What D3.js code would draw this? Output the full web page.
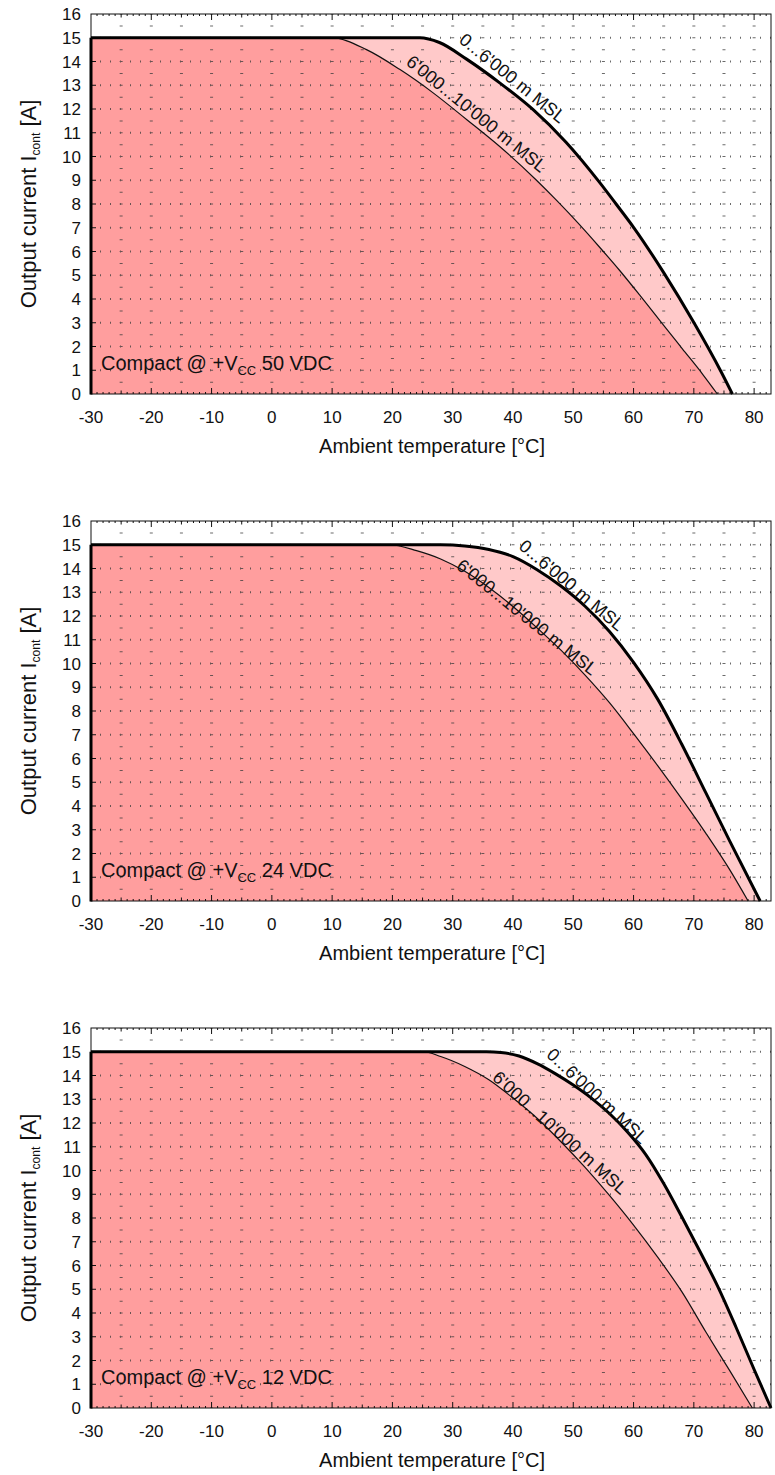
<!DOCTYPE html>
<html>
<head>
<meta charset="utf-8">
<script src="https://cdn.jsdelivr.net/npm/d3@7"></script>
<style>
  body { margin: 0; background: #fff; }
  text { font-family: 'Liberation Sans', Arial, Helvetica, sans-serif; fill: #111; }
</style>
</head>
<body>
<script>
// supply voltages, one chart each
const vccLabels = ['50 VDC', '24 VDC', '12 VDC'];
const tempTicks = d3.range(-30, 81, 10);
const currentTicks = d3.range(0, 17, 1);

// 0...6'000 m MSL (thick curve)
const low50T = [-30, 24.5, 27.8, 32.3, 37.8, 43.3, 48.8, 54.3, 57.1, 60, 65, 70, 74.5, 76.4];
const low50I = [15, 15, 14.8, 14.1, 13.1, 11.98, 10.6, 8.93, 8.0, 7.02, 5.11, 3.01, 0.95, 0];
const low24T = [-30, 28, 32, 36, 40, 44, 48, 52, 56, 60, 64, 68, 72, 76, 81];
const low24I = [15, 15, 14.95, 14.8, 14.5, 13.95, 13.25, 12.4, 11.35, 10.05, 8.5, 6.6, 4.55, 2.5, 0];
const low12T = [-30, 35.6, 38, 41, 44, 47, 50, 53, 56, 59, 62, 65, 68, 71, 74, 77, 80, 82.8];
const low12I = [15, 15, 14.97, 14.82, 14.5, 14.08, 13.6, 13.05, 12.4, 11.62, 10.68, 9.45, 8.05, 6.6, 5.1, 3.4, 1.62, 0];

// 6'000...10'000 m MSL (thin curve)
const high50T = [-30, 9.9, 15.7, 21.2, 26.7, 32.3, 37.8, 43.9, 47.2, 51, 54.3, 57.7, 61, 64.8, 68.1, 71.5, 73.9];
const high50I = [15, 15, 14.5, 13.67, 12.69, 11.56, 10.42, 9.0, 8.16, 7.14, 6.2, 5.2, 4.17, 2.95, 1.9, 0.82, 0];
const high24T = [-30, 19.5, 24, 28, 32, 36, 40, 44, 48, 52, 56, 60, 64, 68, 72, 76, 79];
const high24I = [15, 15, 14.75, 14.4, 13.88, 13.2, 12.4, 11.5, 10.55, 9.5, 8.35, 7.05, 5.7, 4.3, 2.85, 1.3, 0];
const high12T = [-30, 25.1, 28, 32, 36, 40, 44, 48, 52, 56, 60, 64, 68, 72, 76, 79.7];
const high12I = [15, 15, 14.8, 14.38, 13.82, 13.05, 12.2, 11.2, 10.12, 8.95, 7.7, 6.35, 4.9, 3.2, 1.55, 0];

// curve label anchors [T, I, angle]
const lowLabelAt = [[39.3, 13.1, 39], [49.1, 13.1, 40], [53.3, 12.95, 43]];
const highLabelAt = [[33.3, 11.6, 39], [41.7, 11.75, 38.6], [47.1, 11.4, 42]];

const lowCurves = [[low50T, low50I], [low24T, low24I], [low12T, low12I]];
const highCurves = [[high50T, high50I], [high24T, high24I], [high12T, high12I]];

const W = 775, H = 1475;
const left = 91, right = 771, plotH = 380, step = 507, top0 = 14;

const svg = d3.select('body').append('svg').attr('width', W).attr('height', H);
const x = d3.scaleLinear().domain([-30, 82.8]).range([left, right]);

const zip = (ts, is) => ts.map((t, i) => ({ t: t, v: is[i] }));

vccLabels.forEach(function (vcc, k) {
  const top = top0 + k * step;
  const bottom = top + plotH;
  const y = d3.scaleLinear().domain([0, 16]).range([bottom, top]);
  const g = svg.append('g').classed('chart', true);

  const low = zip(lowCurves[k][0], lowCurves[k][1]);
  const high = zip(highCurves[k][0], highCurves[k][1]);

  const area = d3.area().curve(d3.curveMonotoneX)
    .x(d => x(d.t)).y0(y(0)).y1(d => y(d.v));
  const line = d3.line().curve(d3.curveMonotoneX)
    .x(d => x(d.t)).y(d => y(d.v));

  g.append('path').attr('d', area(low)).attr('fill', '#ffc9c9');
  g.append('path').attr('d', area(high)).attr('fill', '#ff9e9e');

  // dotted grid
  const grid = g.append('g').attr('stroke', '#3a3a3a').attr('opacity', 0.75);
  grid.selectAll('.gv').data(d3.range(-25, 81, 5)).enter().append('line')
    .attr('x1', d => x(d)).attr('x2', d => x(d))
    .attr('y1', y(0)).attr('y2', y(16))
    .attr('stroke-width', 3)
    .attr('stroke-dasharray', '1,' + (y(0) - y(0.5) - 1))
    .attr('stroke-dashoffset', -(y(0) - y(0.5)) + 0.5);
  grid.selectAll('.gh').data(d3.range(1, 16)).enter().append('line')
    .attr('x1', x(-30)).attr('x2', x(82.8))
    .attr('y1', d => y(d)).attr('y2', d => y(d))
    .attr('stroke-width', 2)
    .attr('stroke-dasharray', '1,9')
    .attr('stroke-dashoffset', -9);

  // frame
  g.append('rect').attr('x', x(-30)).attr('y', y(16))
    .attr('width', x(82.8) - x(-30)).attr('height', y(0) - y(16))
    .attr('fill', 'none').attr('stroke', '#111').attr('stroke-width', 1);

  // axis ticks
  const ticks = g.append('g').attr('stroke', '#111').attr('stroke-width', 1);
  const minorT = d3.range(-29, 83, 1);
  const tickLen = d => (d % 10 === 0 ? 6 : d % 5 === 0 ? 3.5 : 2);
  ticks.selectAll('.tb').data(minorT).enter().append('line')
    .attr('x1', d => x(d)).attr('x2', d => x(d))
    .attr('y1', y(0)).attr('y2', d => y(0) - tickLen(d));
  ticks.selectAll('.tt').data(minorT).enter().append('line')
    .attr('x1', d => x(d)).attr('x2', d => x(d))
    .attr('y1', y(16)).attr('y2', d => y(16) + tickLen(d));
  ticks.selectAll('.tl').data(currentTicks.slice(1, 16)).enter().append('line')
    .attr('x1', x(-30)).attr('x2', x(-30) + 5)
    .attr('y1', d => y(d)).attr('y2', d => y(d));

  // curves
  g.append('path').attr('d', line(high)).attr('fill', 'none')
    .attr('stroke', '#111').attr('stroke-width', 1.2);
  g.append('path').attr('d', line(low)).attr('fill', 'none')
    .attr('stroke', '#000').attr('stroke-width', 3);
  g.append('line').attr('x1', x(-30)).attr('x2', x(-30))
    .attr('y1', y(0) + 0.5).attr('y2', y(15))
    .attr('stroke', '#000').attr('stroke-width', 3);

  // tick labels
  g.selectAll('.yl').data(currentTicks).enter().append('text')
    .attr('x', 81).attr('y', d => y(d)).attr('dy', '0.36em')
    .attr('text-anchor', 'end').attr('font-size', 17).text(d => d);
  g.selectAll('.xl').data(tempTicks).enter().append('text')
    .attr('x', d => x(d)).attr('y', bottom + 29)
    .attr('text-anchor', 'middle').attr('font-size', 17).text(d => d);

  // axis titles
  g.append('text').attr('x', 432).attr('y', bottom + 59)
    .attr('text-anchor', 'middle').attr('font-size', 20)
    .text('Ambient temperature [°C]');
  const yt = g.append('text')
    .attr('transform', 'translate(36,' + ((top + bottom) / 2) + ') rotate(-90)')
    .attr('text-anchor', 'middle').attr('font-size', 22);
  yt.append('tspan').text('Output current I');
  yt.append('tspan').attr('font-size', 12).attr('dy', 4).text('cont');
  yt.append('tspan').attr('dy', -4).text(' [A]');

  // supply label
  const lab = g.append('text').attr('x', 101).attr('y', bottom - 24).attr('font-size', 20);
  lab.append('tspan').text('Compact @ +V');
  lab.append('tspan').attr('font-size', 13).attr('dy', 5).text('CC');
  lab.append('tspan').attr('dy', -5).text(' ' + vcc);

  // curve labels
  const la = lowLabelAt[k], ha = highLabelAt[k];
  g.append('text').attr('text-anchor', 'middle').attr('font-size', 18)
    .attr('transform', 'translate(' + x(la[0]) + ',' + y(la[1]) + ') rotate(' + la[2] + ')')
    .text("0...6'000 m MSL");
  g.append('text').attr('text-anchor', 'middle').attr('font-size', 18)
    .attr('transform', 'translate(' + x(ha[0]) + ',' + y(ha[1]) + ') rotate(' + ha[2] + ')')
    .text("6'000...10'000 m MSL");
});
</script>
</body>
</html>
